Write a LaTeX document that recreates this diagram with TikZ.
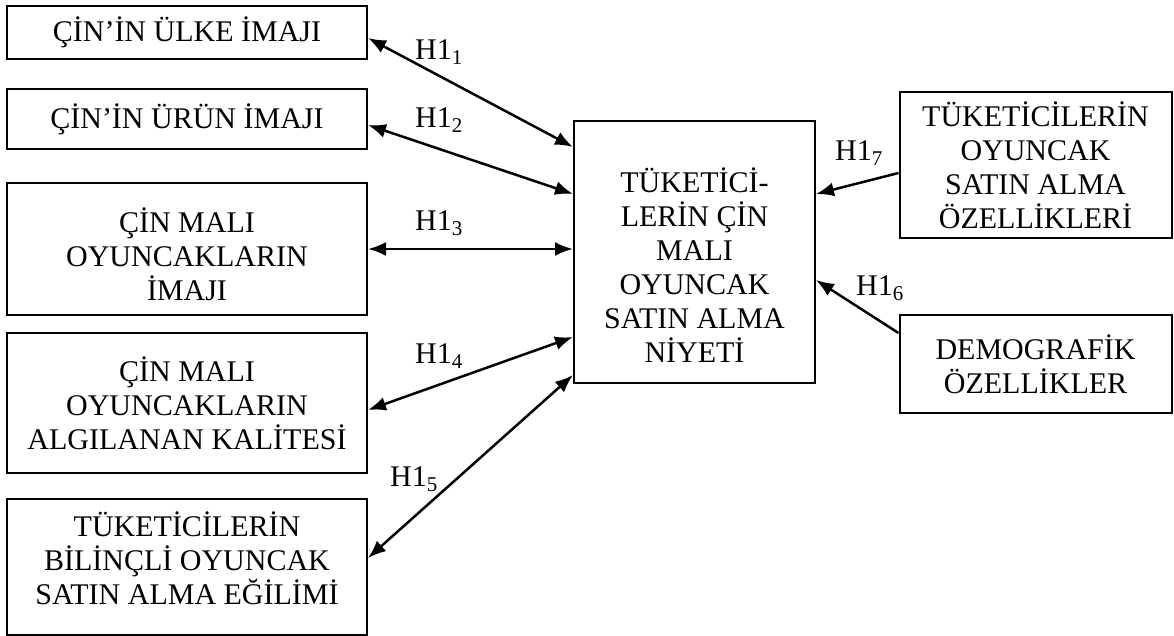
\documentclass[tikz,border=0pt]{standalone}
\usepackage{fontspec}
\setmainfont{Liberation Serif}
\usetikzlibrary{arrows.meta}

\tikzset{
  box/.style={draw, line width=2pt, align=center, inner sep=0pt,
    font=\fontsize{30}{34}\selectfont},
  link/.style={line width=2.5pt,
    {Latex[length=18pt,width=14pt]}-{Latex[length=18pt,width=14pt]}},
  onelink/.style={line width=2.5pt, -{Latex[length=18pt,width=14pt]}},
  hlabel/.style={inner sep=0pt, font=\fontsize{30}{34}\selectfont}
}

\begin{document}
\begin{tikzpicture}[x=1pt, y=-1pt]
    \useasboundingbox (0,0) rectangle (1174,636);

    % Left boxes
    \node[box, minimum width=360pt, minimum height=53pt] (ulke) at (187,32.5) {ÇİN’İN ÜLKE İMAJI};
    \node[box, minimum width=360pt, minimum height=60pt] (urun) at (187,119) {ÇİN’İN ÜRÜN İMAJI};
    \node[box, minimum width=360pt, minimum height=132pt] (imaj) at (187,249) {\rule{0pt}{36pt}ÇİN MALI\\OYUNCAKLARIN\\İMAJI};
    \node[box, minimum width=360pt, minimum height=140pt] (kalite) at (187,403) {ÇİN MALI\\OYUNCAKLARIN\\ALGILANAN KALİTESİ};
    \node[box, minimum width=360pt, minimum height=136pt] (egilim) at (187,567) {TÜKETİCİLERİN\\BİLİNÇLİ OYUNCAK\\SATIN ALMA EĞİLİMİ\rule[-18pt]{0pt}{0pt}};

    % Centre box
    \node[box, minimum width=241pt, minimum height=262pt] (niyet) at (694.5,252) {\rule{0pt}{50pt}TÜKETİCİ-\\LERİN ÇİN\\MALI\\OYUNCAK\\SATIN ALMA\\NİYETİ};

    % Right boxes
    \node[box, minimum width=272pt, minimum height=146pt] (ozellik) at (1035.5,165) {TÜKETİCİLERİN\\OYUNCAK\\SATIN ALMA\\ÖZELLİKLERİ};
    \node[box, minimum width=272pt, minimum height=98pt] (demog) at (1035.5,364) {DEMOGRAFİK\\ÖZELLİKLER};

    % Hypotheses
    \draw[link] ([yshift=-5.5pt]ulke.east) -- ([yshift=105pt]niyet.west);
    \draw[link] ([yshift=-6pt]urun.east) -- ([yshift=58pt]niyet.west);
    \draw[link] (imaj.east) -- (imaj.east -| niyet.west);
    \draw[link] ([yshift=-7pt]kalite.east) -- ([yshift=-85pt]niyet.west);
    \draw[link] ([yshift=9pt]egilim.east) -- ([yshift=-123pt]niyet.west);
    \draw[onelink] ([yshift=-8pt]ozellik.west) -- ([yshift=58pt]niyet.east);
    \draw[onelink] ([yshift=31pt]demog.west) -- ([yshift=-28pt]niyet.east);

    % Labels
    \foreach \x/\y/\n in {439/52/1, 439/120/2, 439/223/3, 439/356/4, 414/479/5, 880/288/6, 859/153/7}
    \node[hlabel] (h\n) at (\x,\y) {H1\textsubscript{\n}};
\end{tikzpicture}
\end{document}
